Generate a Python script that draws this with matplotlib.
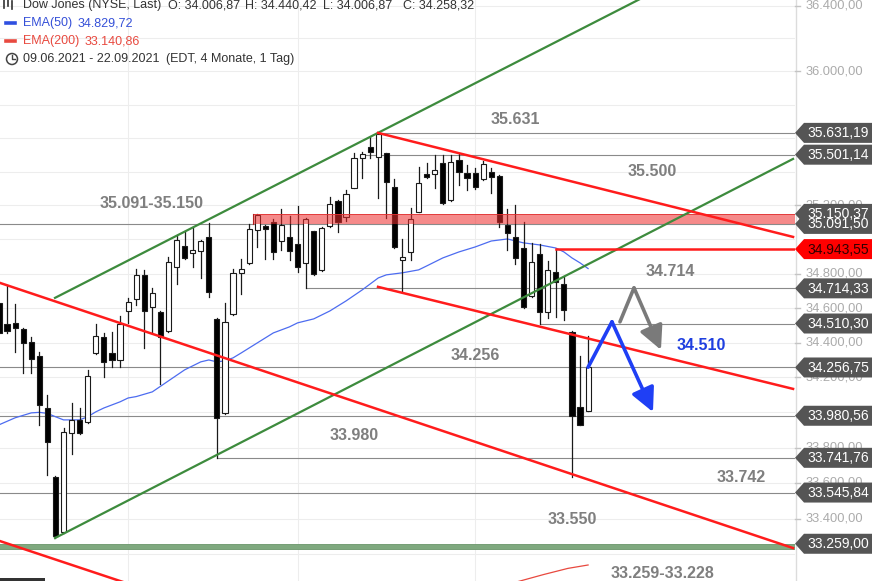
import matplotlib
matplotlib.use("Agg")
import matplotlib.pyplot as plt
from matplotlib.patches import Rectangle, Polygon, FancyArrowPatch, Circle
from matplotlib.lines import Line2D
from matplotlib.transforms import IdentityTransform

plt.rcParams['font.family'] = ['Liberation Sans', 'DejaVu Sans']

# ---------------- data (Dow Jones daily, 09.06.2021 - 22.09.2021) ----------------
opens = [34630, 34508, 34514, 34479, 34404, 34323, 34025, 33634, 33325, 33883,
         33957, 33946, 34340, 34432, 34340, 34300, 34583, 34653, 34793, 34606,
         34577, 34467, 34840, 34962, 34921, 34933, 35015, 34537, 33997, 34566,
         34805, 34863, 35056, 35079, 35103, 34991, 35015, 34974, 34863, 35050,
         34822, 35079, 35227, 35133, 35304, 35482, 35548, 35488, 35512, 35310,
         34880, 34927, 35162, 35387, 35387, 35453, 35233, 35470, 35393, 35393,
         35357, 35399, 35375, 35085, 35015, 34950, 34671, 34915, 34577, 34810,
         34740, 34461, 34031, 34006.87]
highs = [34647, 34734, 34624, 34485, 34432, 34346, 34100, 33640, 33911, 34054,
         34025, 34243, 34508, 34456, 34461, 34554, 34659, 34828, 34822, 34717,
         34580, 34898, 35021, 35050, 35068, 34997, 35097, 34540, 34630, 34828,
         34886, 35091.5, 35150.37, 35085, 35121, 35180, 35138, 35197, 35127, 35050,
         35074, 35250, 35233, 35292, 35512, 35518, 35607, 35631.19, 35512, 35357,
         35003, 35186, 35429, 35453, 35501.14, 35500, 35500, 35506, 35441, 35423,
         35464, 35423, 35378, 35180, 35203, 35103, 34980, 34974, 34875, 34943.55,
         34787, 34467, 34323, 34440.42]
lows = [34415, 34456, 34346, 34226, 34226, 33929, 33645, 33291, 33319, 33764,
        33877, 33940, 34335, 34203, 34260, 34260, 34514, 34618, 34369, 34461,
        34162, 34461, 34740, 34886, 34840, 34775, 34665, 33741.76, 33991, 34560,
        34682, 34857, 34956, 34886, 34886, 34939, 34880, 34810, 34714.33, 34793,
        34816, 35074, 35044, 35109, 35304, 35363, 35482, 35245, 35127, 34950,
        34694, 34880, 35162, 35363, 35304, 35209, 35227, 35322, 35292, 35298,
        35351, 35274, 35074, 34939, 34857, 34600, 34665, 34510.30, 34543, 34548,
        34531, 33634, 33929, 34006.87]
closes = [34456, 34467, 34485, 34398, 34306, 34043, 33832, 33302, 33889, 33957,
          33883, 34208, 34438, 34289, 34300, 34508, 34635, 34793, 34583, 34688,
          34432, 34869, 34997, 34892, 34939, 34991, 34694, 33969, 34519, 34805,
          34828, 35062, 35145, 35062, 34927, 35085, 34933, 34840, 35121, 34799,
          35068, 35209, 35103, 35268, 35482, 35506, 35518, 35625, 35339, 34956,
          34898, 35121, 35333, 35369, 35411, 35215, 35458, 35399, 35363, 35310,
          35447, 35369, 35103, 35038, 34892, 34606, 34869, 34577, 34822, 34752,
          34589, 33980.56, 33929, 34258.32]

ema50_idx = [0, 2, 4, 5, 6, 7, 8, 9, 10, 11, 12, 13, 15, 16, 17, 19, 21, 23, 25,
             26, 27, 28, 29, 30, 32, 34, 36, 37, 39, 41, 43, 45, 47, 48, 50, 52,
             53, 55, 57, 59, 61, 63, 65, 67, 69, 70, 71, 72, 73]
ema50_vals = [33929, 33969, 33997, 34000, 33994, 33975, 33957, 33957, 33957, 33975,
              34003, 34025, 34060, 34082, 34090, 34117, 34180, 34243, 34289,
              34300, 34289, 34295, 34312, 34340, 34398, 34456, 34491, 34514, 34537,
              34583, 34641, 34705, 34775, 34793, 34805, 34822, 34845, 34892, 34927,
              34956, 34991, 35003, 34980, 34968, 34950, 34927, 34892, 34863, 34829.72]
ema200_idx = [64, 67.5, 70.5, 73]
ema200_vals = [33045, 33088, 33122, 33140.86]

month_starts = [16, 37, 59]   # 01.07., 02.08., 01.09.

level_starts = [47, 45, 0, 38, 67, 0, 0, 27, 0]
level_prices = [35631.19, 35501.14, 35091.50, 34714.33, 34510.30,
                34256.75, 33980.56, 33741.76, 33545.84]

zone_red = [35091.50, 35150.37]
zone_red_start = 31.5
zone_green = [33228, 33259]
res_red_price = 34943.55
res_red_start = 69

green_upper_x, green_upper_y = [6.94, 98.64], [34659, 36927]
green_lower_x, green_lower_y = [6.94, 98.4], [33291, 35476]
red_upper_x, red_upper_y = [46.97, 98.4], [35631, 35015]
red_mid_x, red_mid_y = [46.97, 98.4], [34723, 34134]
red_long_x, red_long_y = [0.124, 98.4], [34746, 33235]
red_low_x, red_low_y = [0.124, 18.7], [33274, 32997]

blue_path_x, blue_path_y = [73, 75.96, 81.04], [34258.32, 34520, 34002]
grey_path_x, grey_path_y = [76.95, 78.69, 82.03], [34520, 34717, 34358]

tag_prices = [35631.19, 35501.14, 35091.50, 35150.37, 34943.55, 34714.33,
              34510.30, 34256.75, 33980.56, 33741.76, 33545.84, 33259.00]
tick_vals = [36400, 36000, 35200, 34800, 34600, 34400, 34200,
             33800, 33600, 33400]

notes = [("35.631", 515, 119), ("35.500", 652, 172), ("35.091-35.150", 152, 203),
         ("34.714", 670, 271), ("34.256", 475, 356), ("33.980", 354, 435),
         ("33.742", 741, 477), ("33.550", 572, 520), ("33.259-33.228", 662, 573)]
blue_note = ("34.510", 701, 346)


def de(v):
    s = f"{v:,.2f}"
    return s.replace(",", "X").replace(".", ",").replace("X", ".")


# ---------------- figure ----------------
W, H = 872, 581
AXR = 795
fig = plt.figure(figsize=(W / 100, H / 100), dpi=100)
fig.patch.set_facecolor("white")
ax = fig.add_axes([0, 0, AXR / W, 1])
ax.set_yscale('log')
XMAX = 98.64
ax.set_xlim(0.124, XMAX)
ax.set_ylim(33052, 36434)
ax.set_axis_off()

for v in range(33200, 36600, 200):
    ax.axhline(v, color='#ededed', lw=0.8, zorder=0)
for m in month_starts:
    ax.axvline(m, color='#ededed', lw=0.8, zorder=0)

for s, p in zip(level_starts, level_prices):
    ax.plot([s, XMAX], [p, p], color='#8a8a8a', lw=0.8, zorder=1)

# green zone
ax.add_patch(Rectangle((0, zone_green[0]), XMAX, zone_green[1] - zone_green[0],
                       facecolor='#7fa97f', edgecolor='#6a956a', lw=0.6, zorder=1.5))

# EMA lines
ax.plot(ema50_idx, ema50_vals, color='#4d6cf0', lw=0.9, zorder=2.5)
ax.plot(ema200_idx, ema200_vals, color='#e8493f', lw=0.9, zorder=2.5)

# candles
bw = 0.64
for i, (o, h, l, c) in enumerate(zip(opens, highs, lows, closes)):
    ax.plot([i, i], [l, h], color='#1a1a1a', lw=0.9, zorder=3)
    lo, hi = min(o, c), max(o, c)
    if hi - lo < 6:
        hi = lo + 6
    up = c >= o
    ax.add_patch(Rectangle((i - bw / 2, lo), bw, hi - lo,
                           facecolor='white' if up else '#000000',
                           edgecolor='#1a1a1a', lw=0.8, zorder=4))

# red zone (translucent, over candles)
ax.add_patch(Rectangle((zone_red_start, zone_red[0]), XMAX - zone_red_start,
                       zone_red[1] - zone_red[0], facecolor='#ee2a2a', alpha=0.55,
                       edgecolor='none', zorder=5))
ax.plot([zone_red_start, XMAX], [zone_red[1], zone_red[1]], color='#e03030', lw=0.6, zorder=5)
ax.plot([zone_red_start, zone_red_start], zone_red, color='#b02020', lw=0.8, zorder=5)

# trend channel lines
for xs, ys in [(green_upper_x, green_upper_y), (green_lower_x, green_lower_y)]:
    ax.plot(xs, ys, color='#3d8b3d', lw=1.6, zorder=6)
for xs, ys in [(red_upper_x, red_upper_y), (red_mid_x, red_mid_y),
               (red_long_x, red_long_y), (red_low_x, red_low_y)]:
    ax.plot(xs, ys, color='#ff1c1c', lw=1.8, zorder=6)
ax.plot([res_red_start, XMAX], [res_red_price, res_red_price], color='#ff1c1c', lw=1.8, zorder=6)

# scenario arrows
for xs, ys, col in [(grey_path_x, grey_path_y, '#7a7a7a'), (blue_path_x, blue_path_y, '#1f3ff5')]:
    ax.plot(xs[:2], ys[:2], color=col, lw=2.6, solid_capstyle='round', zorder=8)
    ax.add_patch(FancyArrowPatch((xs[1], ys[1]), (xs[2], ys[2]),
                                 arrowstyle='-|>,head_length=1.2,head_width=0.6',
                                 mutation_scale=12, lw=2.6, color=col,
                                 shrinkA=0, shrinkB=0, capstyle='round', zorder=8))

# annotation texts
for s, x, y in notes:
    ax.text(x / AXR, 1 - y / H, s, transform=ax.transAxes, ha='center', va='center',
            fontsize=11.5, fontweight='bold', color='#7f7f7f', zorder=9)
ax.text(blue_note[1] / AXR, 1 - blue_note[2] / H, blue_note[0], transform=ax.transAxes,
        ha='center', va='center', fontsize=11.5, fontweight='bold', color='#1f3fe0', zorder=9)

# ---------------- right price axis (pixel space) ----------------
IT = IdentityTransform()


def ypix(p):
    return ax.transData.transform((1, p))[1]


fig.add_artist(Line2D([AXR + 0.5, AXR + 0.5], [0, H], color='#dcdcdc', lw=1, transform=IT, zorder=2))
for v in tick_vals:
    yd = ypix(v)
    fig.add_artist(Line2D([AXR, AXR + 5], [yd, yd], color='#c4c4c4', lw=1, transform=IT, zorder=2))
    fig.text(AXR + 11, yd, de(v), transform=IT, ha='left', va='center',
             fontsize=9.3, color='#ababab', zorder=3)

for p in tag_prices:
    yd = ypix(p)
    red = abs(p - res_red_price) < 0.01
    fc = '#ff0000' if red else '#555555'
    tc = '#300000' if red else '#ffffff'
    fig.add_artist(Polygon([[AXR, yd], [AXR + 9, yd + 10], [W, yd + 10], [W, yd - 10],
                            [AXR + 9, yd - 10]], closed=True, facecolor=fc,
                           edgecolor='none', transform=IT, zorder=5))
    fig.text(AXR + 43, yd - 0.5, de(p), transform=IT, ha='center', va='center',
             fontsize=10, color=tc, zorder=6)

# ---------------- header legend ----------------
hc = '#333333'
for s, x in [("Dow Jones (NYSE, Last)", 23), ("O: 34.006,87", 168), ("H: 34.440,42", 245),
             ("L: 34.006,87", 323), ("C: 34.258,32", 403)]:
    fig.text(x, H - 5, s, transform=IT, ha='left', va='center', fontsize=9, color=hc, zorder=6)
for xx, y0, y1 in [(4, 0, 8), (8, 0, 6), (12, 1, 9)]:
    fig.add_artist(Line2D([xx, xx], [H - y1, H - y0], color=hc, lw=1.2, transform=IT, zorder=6))
fig.add_artist(Line2D([6, 15], [H - 23, H - 23], color='#2f4fe0', lw=2.6, transform=IT, zorder=6))
fig.text(23, H - 23, "EMA(50)", transform=IT, ha='left', va='center', fontsize=9, color='#3550d8', zorder=6)
fig.text(78, H - 23, "34.829,72", transform=IT, ha='left', va='center', fontsize=9, color='#3550d8', zorder=6)
fig.add_artist(Line2D([6, 15], [H - 41, H - 41], color='#e8493f', lw=2.6, transform=IT, zorder=6))
fig.text(23, H - 41, "EMA(200)", transform=IT, ha='left', va='center', fontsize=9, color='#e8493f', zorder=6)
fig.text(85, H - 41, "33.140,86", transform=IT, ha='left', va='center', fontsize=9, color='#e8493f', zorder=6)
fig.add_artist(Circle((12, H - 59), 5.5, fill=False, edgecolor='#444444', lw=1.1, transform=IT, zorder=6))
fig.add_artist(Line2D([12, 12, 15], [H - 55, H - 59, H - 59], color='#444444', lw=1.0, transform=IT, zorder=6))
fig.text(23, H - 59, "09.06.2021 - 22.09.2021", transform=IT, ha='left', va='center',
         fontsize=9, color=hc, zorder=6)
fig.text(166, H - 59, "(EDT, 4 Monate, 1 Tag)", transform=IT, ha='left', va='center',
         fontsize=9, color=hc, zorder=6)
fig.add_artist(Rectangle((0, 0), 45, 3, facecolor='#333333', edgecolor='none', transform=IT, zorder=6))

fig.savefig("out.png", dpi=100, facecolor='white')
